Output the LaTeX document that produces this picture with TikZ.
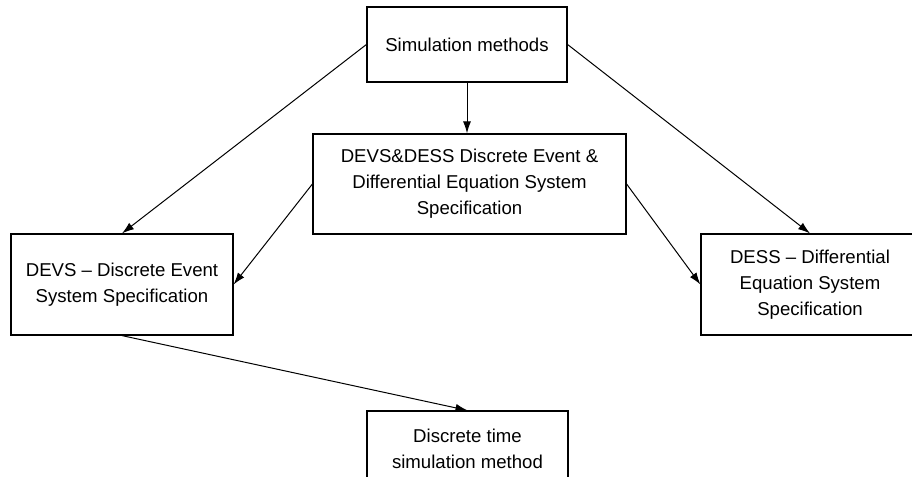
\documentclass[tikz,border=0pt]{standalone}
\usepackage{fontspec}
\setmainfont{Liberation Sans}
\usetikzlibrary{arrows.meta}

\tikzset{
  box/.style={draw, line width=0.6pt, align=center, inner sep=2pt,
    font=\fontsize{9.3}{13}\selectfont},
  link/.style={-{Latex[length=6pt,width=4pt]}, line width=0.5pt}
}

\begin{document}
\begin{tikzpicture}[x=0.5pt,y=-0.5pt]
\clip (0,0) rectangle (912,477);
% boxes
\node[box, minimum width=100pt, minimum height=37.5pt] (sim) at (467,44.5) {Simulation methods};
\node[box, minimum width=156.5pt, minimum height=50pt] (both) at (469.5,184) {DEVS\&DESS Discrete Event \&\\Differential Equation System\\Specification};
\node[box, minimum width=111pt, minimum height=50.5pt] (devs) at (122,284.5) {DEVS – Discrete Event\\System Specification};
\node[box, minimum width=109pt, minimum height=50.5pt] (dess) at (810,284.5) {DESS – Differential\\Equation System\\Specification};
\node[box, minimum width=100.5pt, minimum height=37.5pt] (dts) at (467.5,448.5) {Discrete time\\simulation method};

% connectors
\draw[link] (sim.south) -- (sim.south |- both.north);
\draw[link] (sim.west) -- (devs.north);
\draw[link] (sim.east) -- (dess.north);
\draw[link] (both.west) -- (devs.east);
\draw[link] (both.east) -- (dess.west);
\draw[link] (devs.south) -- (dts.north);
\end{tikzpicture}
\end{document}
